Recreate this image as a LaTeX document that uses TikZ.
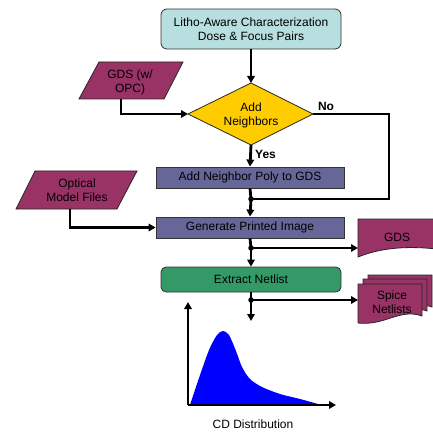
\documentclass[tikz,border=0pt]{standalone}
\usepackage{fontspec}
\setmainfont{Liberation Sans}
\usetikzlibrary{arrows.meta,shapes.geometric,calc}
\definecolor{cyanbox}{RGB}{183,223,224}
\definecolor{maroonfill}{RGB}{153,51,102}
\definecolor{goldfill}{RGB}{255,204,0}
\definecolor{slatefill}{RGB}{102,102,153}
\definecolor{greenfill}{RGB}{51,153,102}
\begin{document}
\begin{tikzpicture}[x=1pt,y=-1pt,
  txt/.style={font=\fontsize{12}{14}\selectfont, align=center, inner sep=0pt},
  box/.style={txt, draw=black!80, line width=0.8pt, minimum height=21pt, minimum width=188pt},
  conn/.style={line width=2.8pt, -{Triangle[length=7pt,width=7.5pt]}},
  wire/.style={line width=2.8pt},
  jdot/.style={circle, fill=black, inner sep=0pt, minimum size=5.5pt},
  outline/.style={draw=black!85, line width=0.8pt}]
\useasboundingbox (0,0) rectangle (432,435);

% top box
\node[box, fill=cyanbox, rounded corners=6pt, minimum width=180pt, minimum height=40pt] (top) at (251,29) {Litho-Aware Characterization\\Dose \& Focus Pairs};

% diamond
\coordinate (dT) at (251,83);
\coordinate (dR) at (313,114);
\coordinate (dB) at (251,145);
\coordinate (dL) at (188,114);
\draw[outline, fill=goldfill] (dT) -- (dR) -- (dB) -- (dL) -- cycle;
\node[txt] (dia) at (251,115) {Add\\Neighbors};
\draw[conn] (top.south) -- (dT);

% GDS input parallelogram
\draw[outline, fill=maroonfill] (99,62) -- (183,62) -- (164,99) -- (79,99) -- cycle;
\node[txt] (gdsin) at (130,82) {GDS (w/\\OPC)};
\coordinate (gdsinB) at (121,99);
\draw[conn] (gdsinB) |- (dL);

% boxes
\node[box, fill=slatefill] (poly) at (250,177.5) {Add Neighbor Poly to GDS};
\node[box, fill=slatefill] (gen) at (250,227.5) {Generate Printed Image};
\node[box, fill=greenfill, rounded corners=5pt, minimum width=180pt, minimum height=25pt] (ext) at (251,279.5) {Extract Netlist};

% Yes / No
\draw[conn] (dB) -- (poly.north);
\node[txt, anchor=west] (yes) at (255,154) {\bfseries Yes};
\node[txt] (no) at (326,106) {\bfseries No};
\coordinate (j1) at (251,199);
\coordinate (nc) at (389,199);
\draw[wire] (dR) -| (nc) -- (j1);
\draw[wire] (poly.south) -- (j1);
\draw[conn] (j1) -- (gen.north);
\node[jdot] at (j1) {};

% optical model files
\draw[outline, fill=maroonfill] (35,171) -- (137,171) -- (117,209) -- (16,209) -- cycle;
\node[txt] (opt) at (77,190) {Optical\\Model Files};
\coordinate (optB) at (70,209);
\draw[conn] (optB) |- (gen.west);

% GDS output document
\draw[outline, fill=maroonfill] (358,219) -- (445,219) -- (445,250) .. controls (415,246) and (385,246) .. (358,257) -- cycle;
\node[txt] (gdsout) at (397,237) {GDS};
\coordinate (gdsL) at (358,248);
\coordinate (j2) at (251,248);
\draw[wire] (gen.south) -- (j2);
\draw[conn] (j2) -- (ext.north);
\draw[conn] (j2) -- (gdsL);
\node[jdot] at (j2) {};

% Spice netlists
\foreach \s in {{(10,-9)},{(5,-5)},{(0,0)}} {
  \draw[outline, fill=maroonfill, shift=\s] (358,284) -- (422,284) -- (422,316) .. controls (400,308) and (385,326) .. (358,323) -- cycle;
}
\node[txt] (spice) at (392,302) {Spice\\Netlists};
\coordinate (spiceL) at (358,300);
\coordinate (j3) at (251,300);
\coordinate (cdtop) at (251,321);
\draw[wire] (ext.south) -- (j3);
\draw[conn] (j3) -- (cdtop);
\draw[conn] (j3) -- (spiceL);
\node[jdot] at (j3) {};

% CD distribution chart
\fill[blue] (190,405) -- plot[smooth] coordinates {(190,405) (199,378) (209,350) (217,335) (223,331) (229,335) (236,351) (242,367) (250,379) (262,387) (280,394) (300,399) (318,404)} -- (318,405) -- cycle;
\coordinate (org) at (188,405);
\coordinate (yend) at (188,302);
\coordinate (xend) at (336,405);
\draw[conn] (org) -- (yend);
\draw[conn] (org) -- (xend);
\node[txt] (cdlabel) at (253,424) {CD Distribution};
\end{tikzpicture}
\end{document}
